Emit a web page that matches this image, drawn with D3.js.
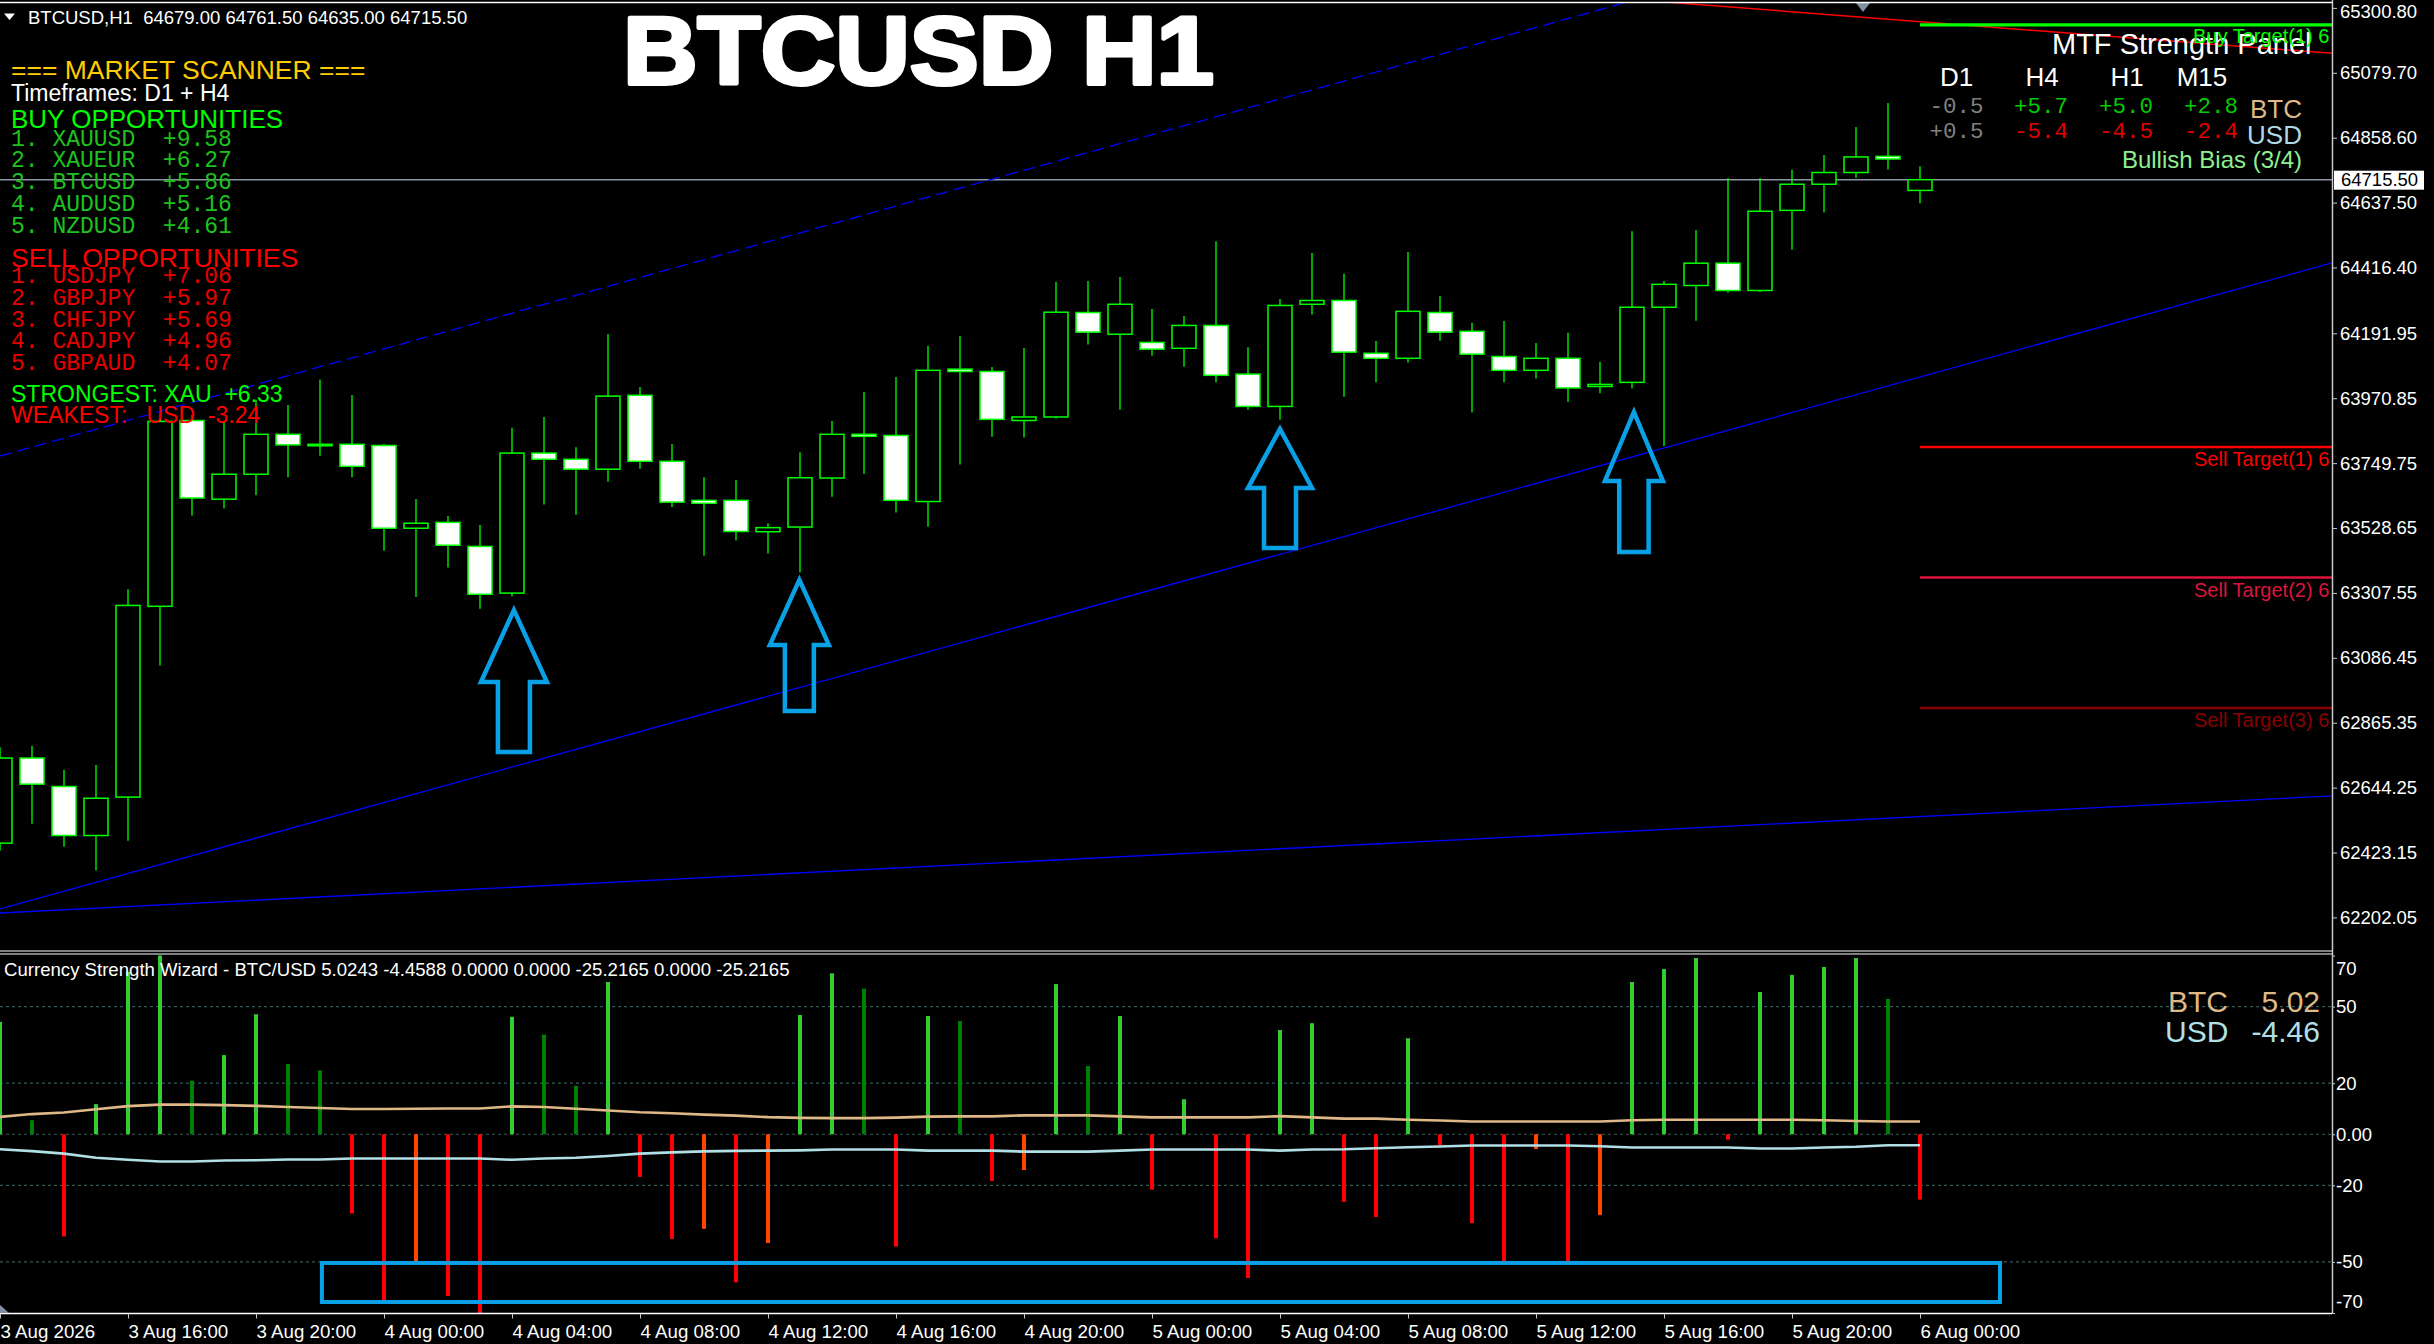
<!DOCTYPE html>
<html><head><meta charset="utf-8">
<script src="https://cdn.jsdelivr.net/npm/d3@7"></script>
<style>
body{margin:0;background:#000;overflow:hidden}
svg{display:block;background:#000}
text{font-family:"Liberation Sans",Arial,sans-serif;white-space:pre}
.mono{font-family:"Liberation Mono","Courier New",monospace}
</style></head><body>
<svg id="c" width="2434" height="1344"></svg>
<script>
// ---------------- DATA ----------------
const symbolHeader = "BTCUSD,H1  64679.00 64761.50 64635.00 64715.50";
const chartTitle = "BTCUSD H1";
const timeLabels = ["3 Aug 2026","3 Aug 16:00","3 Aug 20:00","4 Aug 00:00","4 Aug 04:00","4 Aug 08:00","4 Aug 12:00","4 Aug 16:00","4 Aug 20:00","5 Aug 00:00","5 Aug 04:00","5 Aug 08:00","5 Aug 12:00","5 Aug 16:00","5 Aug 20:00","6 Aug 00:00"];
const timeLabelBars = [0,4,8,12,16,20,24,28,32,36,40,44,48,52,56,60];
const priceTicks = [65300.80,65079.70,64858.60,64637.50,64416.40,64191.95,63970.85,63749.75,63528.65,63307.55,63086.45,62865.35,62644.25,62423.15,62202.05];
const indicatorTicks = [70,50,20,0,-20,-50,-70];
const indicatorLevels = [50,20,0,-20,-50];

const opens  = [62455,62745,62648,62481,62612,63262,63895,63627,63712,63848,63812,63814,63810,63528,63548,63466,63307,63784,63763,63729,63981,63756,63623,63623,63516,63532,63699,63848,63844,63619,64070,64062,63895,63907,64263,64189,64161,64141,64219,64053,63943,64291,64304,64124,64107,64263,64199,64113,64066,64107,64011,64025,64281,64355,64431,64338,64611,64700,64740,64795,64679.00];
const highs  = [62782,62786,62704,62721,63320,63921,63914,63890,63966,63948,64035,63982,63815,63628,63570,63539,63870,63907,63804,64190,64009,63815,63702,63692,63545,63787,63893,63992,64043,64149,64183,64077,64142,64367,64370,64384,64275,64251,64506,64145,64309,64466,64395,64166,64469,64319,64228,64234,64159,64194,64094,64540,64370,64544,64721,64721,64749,64800,64895,64977,64761.50];
const lows   = [62429,62521,62443,62362,62463,63060,63571,63595,63640,63702,63775,63702,63451,63294,63394,63254,63296,63609,63574,63686,63731,63600,63434,63486,63442,63377,63635,63713,63582,63533,63745,63840,63837,63902,64154,63932,64116,64078,64025,63932,63898,64256,63976,64025,64093,64167,63922,64025,64038,63958,63988,64004,63808,64235,64330,64333,64477,64604,64721,64750,64635.00];
const closes = [62745,62656,62481,62608,63265,63892,63631,63712,63848,63812,63814,63739,63528,63545,63470,63303,63784,63763,63729,63978,63756,63617,63613,63517,63530,63700,63848,63841,63623,64066,64062,63899,63907,64264,64196,64291,64138,64219,64049,63943,64287,64304,64128,64107,64267,64196,64121,64066,64107,64006,64018,64281,64359,64431,64338,64608,64700,64740,64793,64786,64715.50];
const currentPrice = 64715.50;

// Currency strength histogram (BTC up / USD down) and shade class
const histValues = [44,5.5,-40,11.8,63.6,74,21,31,47,27.5,25,-31,-65,-50,-63.4,-74,46,39,19,59.6,-16.7,-41,-37,-58,-42.6,46.7,63,57,-44,46.3,44.3,-18.3,-14,58.8,26.7,46.3,-21.7,13.7,-40.7,-56.3,40.8,43.5,-26.5,-32.4,37.6,-4.2,-34.8,-49.7,-5.8,-49.7,-31.6,59.6,64.7,69,-2.1,55.7,62.4,65.5,69,53,-25.6];
const histShade = ["G","D","R","G","G","G","D","G","G","D","D","R","R","O","R","R","G","D","D","G","R","R","O","R","O","G","G","D","R","G","D","R","O","G","D","G","R","G","R","R","G","G","R","R","G","R","R","R","O","R","O","G","G","G","R","G","G","G","G","D","R"];
const btcLine = [6.8,7.9,8.5,9.8,11.0,11.6,11.6,11.4,11.1,10.7,10.3,9.9,9.9,10.0,10.1,10.1,10.9,10.7,10.0,9.3,8.6,8.2,7.7,7.3,6.7,6.4,6.3,6.3,6.5,6.9,7.0,7.0,7.4,7.4,7.4,7.0,6.6,6.6,6.6,6.6,7.1,6.6,6.1,6.1,5.7,5.4,5.0,5.0,5.0,5.0,5.0,5.5,5.7,5.7,5.7,5.7,5.7,5.5,5.2,5.0,5.0];
const usdLine = [-5.9,-6.6,-7.6,-9.2,-10.0,-10.7,-10.7,-10.3,-10.2,-9.9,-9.9,-9.5,-9.5,-9.5,-9.5,-9.5,-10.0,-9.5,-9.2,-8.5,-7.6,-7.1,-6.7,-6.5,-6.4,-6.3,-6.0,-6.0,-6.0,-6.4,-6.4,-6.4,-6.8,-6.8,-6.8,-6.4,-6.0,-6.0,-6.0,-6.0,-6.4,-6.0,-5.9,-5.5,-5.1,-4.8,-4.4,-4.4,-4.4,-4.4,-4.7,-5.2,-5.2,-5.2,-5.2,-5.6,-5.6,-5.2,-4.9,-4.3,-4.3];
const indicatorTitle = "Currency Strength Wizard - BTC/USD 5.0243 -4.4588 0.0000 0.0000 -25.2165 0.0000 -25.2165";
const btcNow = 5.02, usdNow = -4.46;

// Scanner panel
const buyPairs = ["XAUUSD","XAUEUR","BTCUSD","AUDUSD","NZDUSD"];
const buyScores = [9.58,6.27,5.86,5.16,4.61];
const sellPairs = ["USDJPY","GBPJPY","CHFJPY","CADJPY","GBPAUD"];
const sellScores = [7.06,5.97,5.69,4.96,4.07];
const strongest = ["XAU", 6.33];
const weakest = ["USD", -3.24];

// MTF panel
const mtfFrames = ["D1","H4","H1","M15"];
const mtfBTC = [-0.5,5.7,5.0,2.8];
const mtfUSD = [0.5,-5.4,-4.5,-2.4];

// Drawing objects (bar index, price)
const channelUpper = [[0,63774],[55,65447]];
const channelLower = [[0,62231],[72.875,64432]];
const flatTrend = [[0,62217],[72.875,62616]];
const redTrend = [[50,65338],[72.875,65146]];
const buyTargets = [65243.3];
const sellTargets = [63804.8,63360.5,62915.8];
const targetStartBar = 60;
const arrowTipBar = [16.06,24.98,40.0,51.06];
const arrowTipPrice = [63249,63352,63866,63924];
const arrowBasePrice = [62766,62905,63461,63447];
const boxBars = [10.06,62.5];
const boxValues = [-50.4,-65.7];

// ---------------- STYLE / LAYOUT ----------------
const PR = 2332;              // price axis x
const MAIN_B = 950;
const IND_T = 955.5, IND_B = 1313;
const arrowShape = [{hh:72,hw:33,sw:16},{hh:65,hw:29.5,sw:14.5},{hh:59,hw:32,sw:16},{hh:69,hw:29,sw:14.7}];
const shadeColor = {G:"#32CD32",D:"#008000",R:"#FF0000",O:"#FF4500"};
const ARROW = "#0aa0e6";

const svg = d3.select("#c");
const x = d3.scaleLinear().domain([0,72.875]).range([0,PR]);
const y = d3.scaleLinear().domain([62202.05,65300.80]).range([917.4,7.9]);
const yi = d3.scaleLinear().domain([-70,70]).range([IND_B,IND_T]);

const defs = svg.append("defs");
defs.append("clipPath").attr("id","mainClip").append("rect").attr("x",0).attr("y",3).attr("width",PR).attr("height",MAIN_B-3);
defs.append("clipPath").attr("id","indClip").append("rect").attr("x",0).attr("y",IND_T).attr("width",PR).attr("height",IND_B-IND_T);

const mainG = svg.append("g").attr("clip-path","url(#mainClip)");
const indG = svg.append("g").attr("clip-path","url(#indClip)");

// current price line
mainG.append("line").attr("x1",0).attr("x2",PR).attr("y1",y(currentPrice)).attr("y2",y(currentPrice))
  .attr("stroke","#8c96a6").attr("stroke-width",1.5);

// trend lines
const seg = (pts,color,w,dash)=>{
  mainG.append("line").attr("x1",x(pts[0][0])).attr("y1",y(pts[0][1])).attr("x2",x(pts[1][0])).attr("y2",y(pts[1][1]))
    .attr("stroke",color).attr("stroke-width",w).attr("stroke-dasharray",dash||null);
};
seg(channelUpper,"#0000FF",1.3,"12,6");
seg(channelLower,"#0000FF",1.3);
seg(flatTrend,"#0000FF",1.3);

// candles
const bars = d3.range(opens.length);
const cg = mainG.append("g");
cg.selectAll("line.w").data(bars).join("line").attr("class","w")
  .attr("x1",i=>x(i)).attr("x2",i=>x(i)).attr("y1",i=>y(highs[i])).attr("y2",i=>y(lows[i]))
  .attr("stroke","#00FF00").attr("stroke-width",1.3);
cg.selectAll("rect.b").data(bars).join("rect").attr("class","b")
  .attr("x",i=>x(i)-12).attr("width",24)
  .attr("y",i=>Math.min(y(opens[i]),y(closes[i])))
  .attr("height",i=>Math.max(1.5,Math.abs(y(opens[i])-y(closes[i]))))
  .attr("fill",i=>closes[i]>=opens[i]?"#000":"#fff")
  .attr("stroke","#00FF00").attr("stroke-width",1.5);

seg(redTrend,"#FF0000",1.5);

// arrows
arrowTipBar.forEach((b,k)=>{
  const tx=x(b), ty=y(arrowTipPrice[k]), by=y(arrowBasePrice[k]), s=arrowShape[k];
  const p=[[tx,ty],[tx+s.hw,ty+s.hh],[tx+s.sw,ty+s.hh],[tx+s.sw,by],[tx-s.sw,by],[tx-s.sw,ty+s.hh],[tx-s.hw,ty+s.hh]];
  mainG.append("path").attr("d","M"+p.map(q=>q.join(",")).join("L")+"Z")
    .attr("fill","none").attr("stroke",ARROW).attr("stroke-width",4.5).attr("stroke-linejoin","miter");
});

// ---------------- TEXT HELPERS ----------------
function txt(g,xp,yp,s,o){
  o=o||{};
  const t=g.append("text").attr("x",xp).attr("y",yp).text(s)
    .attr("font-size",o.size||18.5).attr("fill",o.fill||"#fff")
    .attr("text-anchor",o.anchor||"start");
  if(o.weight) t.attr("font-weight",o.weight);
  if(o.cls) t.attr("class",o.cls);
  if(o.len) t.attr("textLength",o.len).attr("lengthAdjust","spacingAndGlyphs");
  if(o.dy) t.attr("dy",o.dy);
  return t;
}
const topG = svg.append("g");

// header
topG.append("path").attr("d","M4,13.5L15,13.5L9.5,20Z").attr("fill","#fff");
txt(topG,28,23.5,symbolHeader,{size:18.5});
txt(topG,623,84,chartTitle,{size:96,weight:900,len:591})
  .attr("stroke","#fff").attr("stroke-width",4).attr("stroke-linejoin","round");

// scanner
txt(topG,11,79,"=== MARKET SCANNER ===",{size:26.5,fill:"#FFCC00"});
txt(topG,11,101,"Timeframes: D1 + H4",{size:23});
txt(topG,11,128,"BUY OPPORTUNITIES",{size:26,fill:"#00FF00"});
buyPairs.forEach((p,k)=>txt(topG,11,145.7+k*21.75,`${k+1}. ${p}  +${buyScores[k].toFixed(2)}`,{size:23,fill:"#1ec21e",cls:"mono"}));
txt(topG,11,266.7,"SELL OPPORTUNITIES",{size:26.5,fill:"#FF0000"});
sellPairs.forEach((p,k)=>txt(topG,11,283.3+k*21.7,`${k+1}. ${p}  +${sellScores[k].toFixed(2)}`,{size:23,fill:"#e60000",cls:"mono"}));
txt(topG,11,401.7,`STRONGEST: ${strongest[0]}  +${strongest[1].toFixed(2)}`,{size:23,fill:"#00FF00"});
txt(topG,11,423.3,`WEAKEST:   ${weakest[0]}  ${weakest[1].toFixed(2)}`,{size:23,fill:"#FF0000"});

// MTF panel
txt(topG,2052,54,"MTF Strength Panel",{size:29});
const colX=[1956.5,2042,2127,2202], valX=[1929.5,2014,2099,2184];
const sgn=v=>(v>=0?"+":"-")+Math.abs(v).toFixed(1);
const vcol=v=>Math.abs(v)<1?"#808080":(v>0?"#00CC00":"#E00000");
mtfFrames.forEach((f,k)=>{
  txt(topG,colX[k],86,f,{size:26,anchor:"middle"});
  txt(topG,valX[k],113,sgn(mtfBTC[k]),{size:22.5,fill:vcol(mtfBTC[k]),cls:"mono"});
  txt(topG,valX[k],138,sgn(mtfUSD[k]),{size:22.5,fill:vcol(mtfUSD[k]),cls:"mono"});
});
txt(topG,2302,118,"BTC",{size:26,fill:"#DEB887",anchor:"end"});
txt(topG,2302,144,"USD",{size:26,fill:"#ADD8E6",anchor:"end"});
txt(topG,2302,168,"Bullish Bias (3/4)",{size:24,fill:"#90EE90",anchor:"end"});

// targets (labels run under the price scale, so only their start is visible)
const tg = svg.append("g").attr("clip-path","url(#mainClip)");
const tgtLabel = (kind,k,v)=>`${kind} Target(${k+1}) ${v.toFixed(2).charAt(0)}`;
buyTargets.forEach((v,k)=>{
  tg.append("line").attr("x1",x(targetStartBar)).attr("x2",PR).attr("y1",y(v)).attr("y2",y(v)).attr("stroke","#00FF00").attr("stroke-width",3.2);
  txt(tg,2193,y(v)+18.5,tgtLabel("Buy",k,v),{size:20,fill:"#00FF00"});
});
const sellCol=["#FF0000","#DC143C","#8B0000"];
sellTargets.forEach((v,k)=>{
  tg.append("line").attr("x1",x(targetStartBar)).attr("x2",PR).attr("y1",y(v)).attr("y2",y(v)).attr("stroke",sellCol[k]).attr("stroke-width",2.5);
  txt(tg,2194,y(v)+19.5,tgtLabel("Sell",k,v),{size:20,fill:sellCol[k]});
});
// chart shift marker
svg.append("path").attr("d","M1856,3L1870,3L1863,12Z").attr("fill","#8090a0");

// ---------------- FRAMES & PRICE AXIS ----------------
svg.append("line").attr("x1",0).attr("x2",PR).attr("y1",2.5).attr("y2",2.5).attr("stroke","#fff").attr("stroke-width",1.5);
svg.append("line").attr("x1",0).attr("x2",PR).attr("y1",951).attr("y2",951).attr("stroke","#fff").attr("stroke-width",1.2);
svg.append("line").attr("x1",0).attr("x2",PR).attr("y1",954).attr("y2",954).attr("stroke","#fff").attr("stroke-width",1.2);
svg.append("line").attr("x1",PR+0.5).attr("x2",PR+0.5).attr("y1",0).attr("y2",IND_B).attr("stroke","#c8c8c8").attr("stroke-width",1.5);
svg.append("line").attr("x1",0).attr("x2",PR).attr("y1",IND_B+0.5).attr("y2",IND_B+0.5).attr("stroke","#fff").attr("stroke-width",1.5);

const pa = svg.append("g").attr("transform",`translate(${PR},0)`)
  .call(d3.axisRight(y).tickValues(priceTicks).tickFormat(d=>d.toFixed(2)).tickSize(5).tickSizeOuter(0).tickPadding(3));
pa.select(".domain").remove();
pa.selectAll("line").attr("stroke","#c8c8c8");
pa.selectAll("text").attr("fill","#fff").attr("font-size",18.5).attr("font-family","\"Liberation Sans\",Arial,sans-serif");
pa.selectAll(".tick").filter(d=>d===priceTicks[0]).select("text").attr("dy","0.5em");

// current price box
svg.append("rect").attr("x",PR+2).attr("y",y(currentPrice)-9).attr("width",90).attr("height",19).attr("fill","#fff");
txt(svg,PR+9,y(currentPrice),currentPrice.toFixed(2),{size:18.5,fill:"#000",dy:"0.36em"});

// ---------------- INDICATOR ----------------
indicatorLevels.forEach(v=>{
  indG.append("line").attr("x1",0).attr("x2",PR).attr("y1",yi(v)).attr("y2",yi(v))
    .attr("stroke","#355a5a").attr("stroke-width",1.2).attr("stroke-dasharray","3,3");
});
indG.selectAll("rect.h").data(bars).join("rect").attr("class","h")
  .attr("x",i=>x(i)-2).attr("width",4)
  .attr("y",i=>Math.min(yi(0),yi(histValues[i])))
  .attr("height",i=>Math.abs(yi(histValues[i])-yi(0)))
  .attr("fill",i=>shadeColor[histShade[i]]);
const ln = d3.line().x((d,i)=>x(i)).y(d=>yi(d));
indG.append("path").datum(btcLine).attr("d",ln).attr("fill","none").attr("stroke","#DEB887").attr("stroke-width",2.6);
indG.append("path").datum(usdLine).attr("d",ln).attr("fill","none").attr("stroke","#B0E0E6").attr("stroke-width",2.6);
// highlight box
indG.append("rect").attr("x",x(boxBars[0])).attr("y",yi(boxValues[0])).attr("width",x(boxBars[1])-x(boxBars[0])).attr("height",yi(boxValues[1])-yi(boxValues[0]))
  .attr("fill","none").attr("stroke",ARROW).attr("stroke-width",4);

txt(svg,4,976,indicatorTitle,{size:18.6});
txt(svg,2168,1011.7,"BTC",{size:30,fill:"#DEB887"});
txt(svg,2320,1011.7,btcNow.toFixed(2),{size:30,fill:"#DEB887",anchor:"end"});
txt(svg,2165,1041.7,"USD",{size:30,fill:"#B0E0E6"});
txt(svg,2320,1041.7,usdNow.toFixed(2),{size:30,fill:"#B0E0E6",anchor:"end"});

const ia = svg.append("g").attr("transform",`translate(${PR},0)`)
  .call(d3.axisRight(yi).tickValues(indicatorTicks).tickFormat(d=>d===0?"0.00":String(d)).tickSize(3).tickSizeOuter(0).tickPadding(1));
ia.select(".domain").remove();
ia.selectAll("line").attr("stroke","#c8c8c8");
ia.selectAll("text").attr("fill","#fff").attr("font-size",18.5).attr("font-family","\"Liberation Sans\",Arial,sans-serif");
ia.selectAll(".tick").filter(d=>d===70).select("text").attr("dy","1.0em");
ia.selectAll(".tick").filter(d=>d===-70).select("text").attr("dy","-0.3em");

// bottom-left marker
svg.append("path").attr("d","M0,1305L9,1313L0,1313Z").attr("fill","#8090a0");

// ---------------- TIME AXIS ----------------
const ta = svg.append("g").attr("transform",`translate(0,${IND_B+0.5})`)
  .call(d3.axisBottom(x).tickValues(timeLabelBars).tickFormat((d,k)=>timeLabels[k]).tickSize(5).tickSizeOuter(0).tickPadding(6));
ta.select(".domain").remove();
ta.selectAll("line").attr("stroke","#c8c8c8");
ta.selectAll("text").attr("fill","#fff").attr("font-size",18.7).attr("text-anchor","start")
  .attr("font-family","\"Liberation Sans\",Arial,sans-serif");
</script>
</body></html>
